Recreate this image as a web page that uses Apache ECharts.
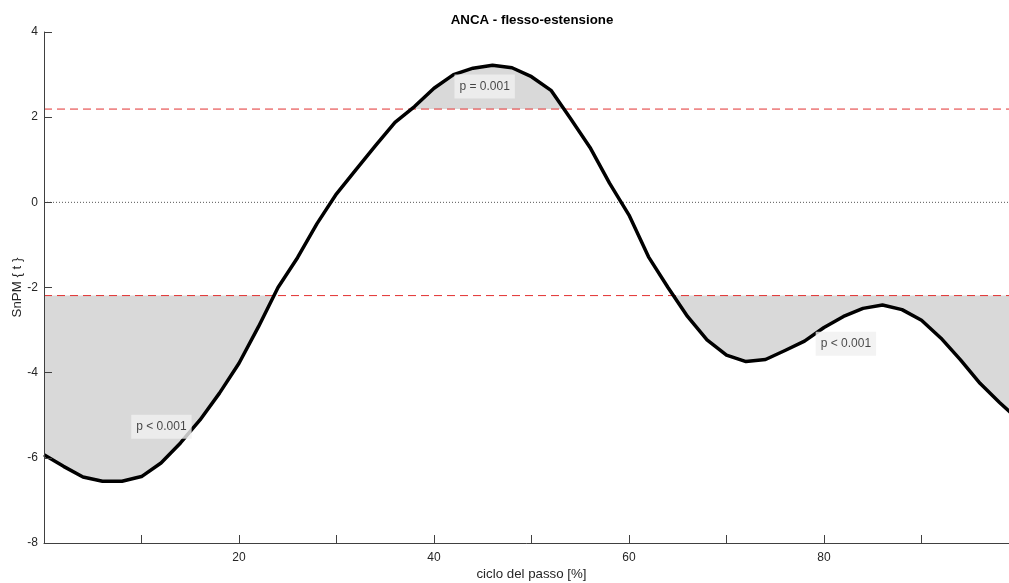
<!DOCTYPE html>
<html>
<head>
<meta charset="utf-8">
<title>ANCA - flesso-estensione</title>
<script src="https://cdn.jsdelivr.net/npm/echarts@6/dist/echarts.min.js"></script>
<style>
  html, body { margin: 0; padding: 0; background: #fff; overflow: hidden; }
  #chart { width: 1009px; height: 583px; }
</style>
</head>
<body>
<div id="chart"></div>
<script>
// ciclo del passo [%]
const cycle = [0, 2, 4, 6, 8, 10, 12, 14, 16, 18, 20, 22, 24, 26, 28, 30, 32, 34, 36, 38, 40,
  42, 44, 46, 48, 50, 52, 54, 56, 58, 60, 62, 64, 66, 68, 70, 72, 74, 76, 78, 80,
  82, 84, 86, 88, 90, 92, 94, 96, 98, 100]
// SnPM {t}
const tValues = [-5.93, -6.2, -6.45, -6.55, -6.55, -6.44, -6.12, -5.65, -5.11, -4.48, -3.78,
  -2.92, -2.0, -1.3, -0.5, 0.2, 0.77, 1.33, 1.88, 2.25, 2.68,
  3.0, 3.15, 3.22, 3.16, 2.95, 2.63, 1.97, 1.29, 0.45, -0.3,
  -1.28, -2.0, -2.68, -3.23, -3.59, -3.74, -3.69, -3.48, -3.26, -2.94,
  -2.68, -2.49, -2.41, -2.52, -2.77, -3.19, -3.7, -4.25, -4.7, -5.12]
// soglia critica
const threshold = 2.19
// etichette dei cluster
const labelX = [9.0, 42.15, 79.2]
const labelY = [-5.28, 2.71, -3.33]
const labelText = ['p < 0.001', 'p = 0.001', 'p < 0.001']

const xTicks = [20, 40, 60, 80]

// trova i cluster sopra (sign = 1) o sotto (sign = -1) la soglia
function clusters (sign) {
  const h = sign * threshold
  const polys = []
  let cur = null
  for (let i = 0; i < cycle.length; i++) {
    const inside = sign * (tValues[i] - h) > 0
    if (i > 0) {
      const prevIn = sign * (tValues[i - 1] - h) > 0
      if (prevIn !== inside) {
        const f = (h - tValues[i - 1]) / (tValues[i] - tValues[i - 1])
        const xc = cycle[i - 1] + f * (cycle[i] - cycle[i - 1])
        if (inside) {
          cur = [[xc, h]]
        } else {
          cur.push([xc, h])
          polys.push(cur)
          cur = null
        }
      }
    }
    if (inside) {
      if (!cur) cur = [[cycle[i], h]]
      cur.push([cycle[i], tValues[i]])
    }
  }
  if (cur) {
    cur.push([cycle[cycle.length - 1], h])
    polys.push(cur)
  }
  return polys
}

const chart = echarts.init(document.getElementById('chart'))
const font = 'Liberation Sans, Arial, Helvetica, sans-serif'
const textColor = '#262626'
const axisColor = '#404040'
const redDash = '#e23030'

const option = {
  animation: false,
  textStyle: { fontFamily: font },
  title: {
    text: 'ANCA - flesso-estensione',
    left: 527,
    textAlign: 'center',
    top: 9,
    textStyle: { fontSize: 13.3, fontWeight: 'bold', color: '#000', fontFamily: font }
  },
  grid: { left: 44, right: -10, top: 32, bottom: 40, outerBoundsMode: 'none' },
  xAxis: {
    type: 'value',
    min: 0,
    max: 100,
    interval: 10,
    z: 10,
    name: 'ciclo del passo [%]',
    nameLocation: 'middle',
    nameGap: 25,
    nameMoveOverlap: false,
    nameTextStyle: { fontSize: 13.3, color: textColor, fontFamily: font },
    axisLine: { show: true, onZero: false, lineStyle: { color: axisColor, width: 1 } },
    axisTick: { show: true, inside: true, length: 8, lineStyle: { color: axisColor } },
    axisLabel: {
      fontSize: 12,
      color: textColor,
      margin: 9,
      formatter: v => (xTicks.indexOf(v) >= 0 ? String(v) : '')
    },
    splitLine: { show: false }
  },
  yAxis: {
    type: 'value',
    min: -8,
    max: 4,
    interval: 2,
    z: 10,
    name: 'SnPM { t }',
    nameLocation: 'middle',
    nameGap: 20,
    nameMoveOverlap: false,
    nameTextStyle: { fontSize: 13.3, color: textColor, fontFamily: font },
    axisLine: { show: true, onZero: false, lineStyle: { color: axisColor, width: 1 } },
    axisTick: { show: true, inside: true, length: 8, lineStyle: { color: axisColor } },
    axisLabel: { fontSize: 12, color: textColor, margin: 6 },
    splitLine: { show: false }
  },
  series: [
    {
      // aree dei cluster
      type: 'custom',
      clip: true,
      z: 1,
      silent: true,
      data: [[0, 0]],
      renderItem: (params, api) => {
        const polys = clusters(1).concat(clusters(-1))
        return {
          type: 'group',
          children: polys.map(p => ({
            type: 'polygon',
            shape: { points: p.map(pt => api.coord(pt)) },
            style: { fill: '#d9d9d9', stroke: null }
          }))
        }
      }
    },
    {
      type: 'line',
      z: 2,
      silent: true,
      symbol: 'none',
      data: [[0, 0], [100, 0]],
      lineStyle: { color: '#555', width: 1, type: [1, 2] }
    },
    {
      type: 'line',
      z: 2,
      silent: true,
      symbol: 'none',
      data: [[0, threshold], [100, threshold]],
      lineStyle: { color: redDash, width: 1, type: [8, 5] }
    },
    {
      type: 'line',
      z: 2,
      silent: true,
      symbol: 'none',
      data: [[0, -threshold], [100, -threshold]],
      lineStyle: { color: redDash, width: 1, type: [8, 5] }
    },
    {
      type: 'line',
      z: 3,
      silent: true,
      symbol: 'none',
      data: cycle.map((x, i) => [x, tValues[i]]),
      lineStyle: { color: '#000', width: 3.5, join: 'round' }
    },
    {
      type: 'scatter',
      z: 5,
      silent: true,
      symbolSize: 1,
      itemStyle: { color: 'rgba(0,0,0,0)' },
      data: labelX.map((x, i) => [x, labelY[i], labelText[i]]),
      label: {
        show: true,
        position: [0, 0],
        align: 'left',
        verticalAlign: 'middle',
        formatter: p => p.data[2],
        fontSize: 12,
        color: '#1a1a1a',
        fontFamily: font,
        backgroundColor: '#f0f0f0',
        padding: [6, 5, 6, 5]
      }
    }
  ]
}

chart.setOption(option)
</script>
</body>
</html>
